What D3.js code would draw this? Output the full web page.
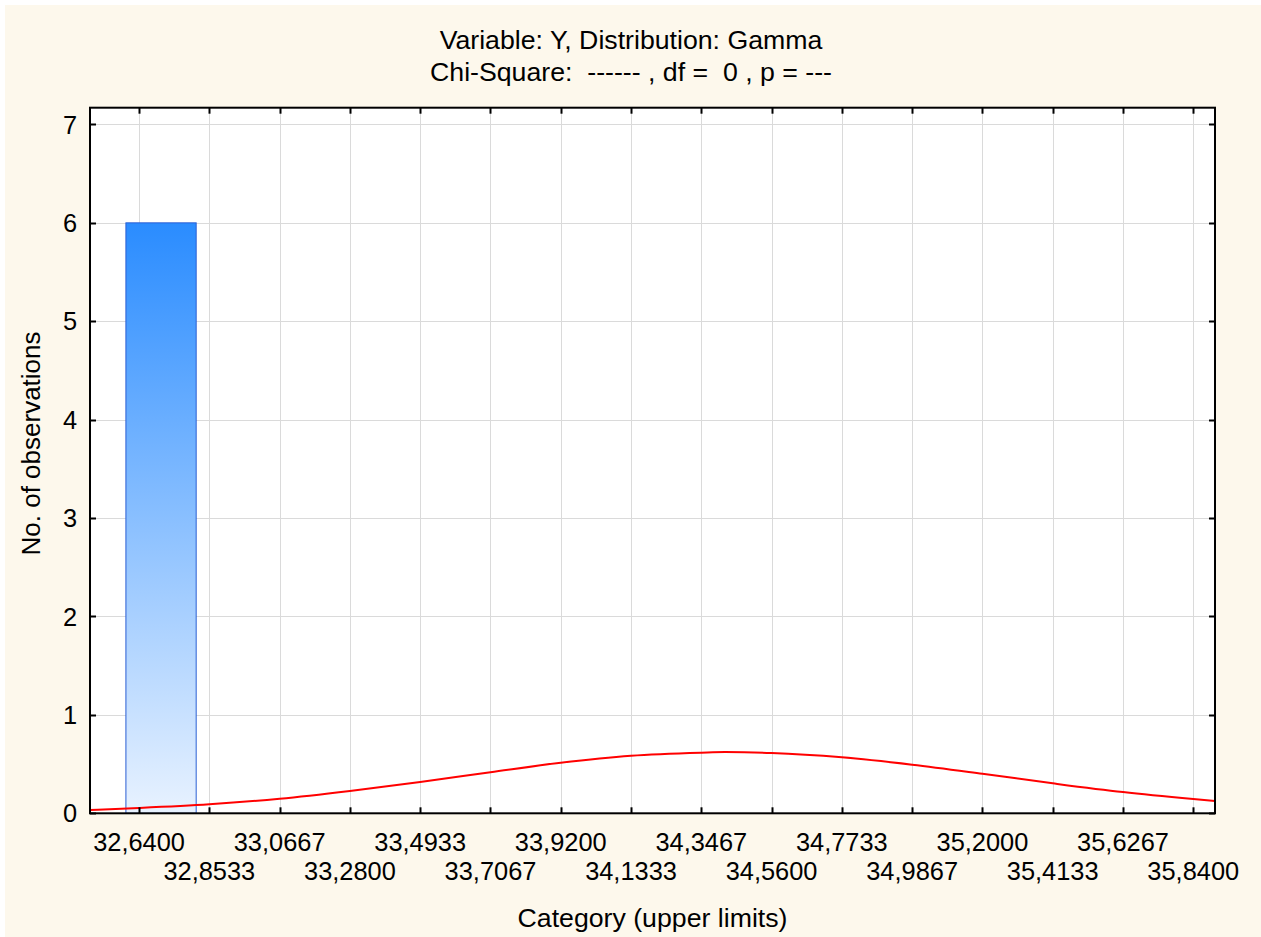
<!DOCTYPE html>
<html>
<head>
<meta charset="utf-8">
<script src="https://cdn.jsdelivr.net/npm/d3@7"></script>
<style>
  html, body { margin: 0; padding: 0; background: #ffffff; }
  svg { display: block; }
  text { font-family: "Liberation Sans", Arial, sans-serif; fill: #000; white-space: pre; }
</style>
</head>
<body>
<svg id="chart" width="1261" height="937"></svg>
<script>
// Histogram of Y with fitted Gamma density
const titleLines = ["Variable: Y, Distribution: Gamma", "Chi-Square:  ------ , df =  0 , p = ---"];
const xTitle = "Category (upper limits)";
const yTitle = "No. of observations";

const xTickLabels = ["32,6400", "32,8533", "33,0667", "33,2800", "33,4933", "33,7067", "33,9200", "34,1333",
                     "34,3467", "34,5600", "34,7733", "34,9867", "35,2000", "35,4133", "35,6267", "35,8400"];
const yTicks = [0, 1, 2, 3, 4, 5, 6, 7];

// histogram bins: lower edge, upper edge, count
const binLower = [32.6];
const binUpper = [32.8133];
const binCount = [6];

// fitted density (expected counts) along the x range
const curveX = [32.491, 32.64, 32.8533, 33.0667, 33.28, 33.4933, 33.7067, 33.92, 34.1333,
                34.3467, 34.419, 34.56, 34.7733, 34.9867, 35.2, 35.4133, 35.6267, 35.84, 35.906];
const curveY = [0.034, 0.054, 0.091, 0.148, 0.227, 0.318, 0.417, 0.514, 0.585,
                0.616, 0.622, 0.613, 0.569, 0.494, 0.402, 0.305, 0.216, 0.145, 0.125];

const xDomain = [32.491, 35.906];
const yDomain = [0, 7.17];

const svg = d3.select("#chart");
const W = 1261, H = 937;
const plot = { left: 90, right: 1215, top: 107.7, bottom: 813.3 };

// page background
svg.append("rect").attr("x", 0).attr("y", 0).attr("width", W).attr("height", H).attr("fill", "#ffffff");
svg.append("rect").attr("x", 5).attr("y", 5).attr("width", W - 5).attr("height", H - 5).attr("fill", "#fdf8ec");

const x = d3.scaleLinear().domain(xDomain).range([plot.left, plot.right]);
const y = d3.scaleLinear().domain(yDomain).range([plot.bottom, plot.top]);

const xTickValues = xTickLabels.map(s => +s.replace(",", "."));

// plot area
svg.append("rect")
  .attr("x", plot.left).attr("y", plot.top)
  .attr("width", plot.right - plot.left).attr("height", plot.bottom - plot.top)
  .attr("fill", "#ffffff");

// grid
const grid = svg.append("g").attr("stroke", "#dadada").attr("stroke-width", 1);
grid.selectAll("line.v").data(xTickValues).enter().append("line")
  .attr("x1", d => Math.round(x(d)) + 0.5).attr("x2", d => Math.round(x(d)) + 0.5)
  .attr("y1", plot.top).attr("y2", plot.bottom);
grid.selectAll("line.h").data(yTicks).enter().append("line")
  .attr("x1", plot.left).attr("x2", plot.right)
  .attr("y1", d => Math.round(y(d)) + 0.5).attr("y2", d => Math.round(y(d)) + 0.5);

// gradient for bars
const defs = svg.append("defs");
const grad = defs.append("linearGradient").attr("id", "barGrad")
  .attr("x1", 0).attr("y1", 0).attr("x2", 0).attr("y2", 1);
grad.append("stop").attr("offset", "0%").attr("stop-color", "#2a8cff");
grad.append("stop").attr("offset", "100%").attr("stop-color", "#e8f2ff");

// bars
const bins = binCount.map((c, i) => ({ lo: binLower[i], hi: binUpper[i], n: c }));
svg.append("g").selectAll("rect").data(bins).enter().append("rect")
  .attr("x", d => x(d.lo)).attr("y", d => y(d.n))
  .attr("width", d => x(d.hi) - x(d.lo)).attr("height", d => y(0) - y(d.n))
  .attr("fill", "url(#barGrad)")
  .attr("stroke", "#2a5fd4").attr("stroke-width", 1);

// fitted curve
const pts = curveX.map((v, i) => [v, curveY[i]]);
svg.append("path")
  .attr("d", d3.line().x(d => x(d[0])).y(d => y(d[1])).curve(d3.curveMonotoneX)(pts))
  .attr("fill", "none").attr("stroke", "#ff0000").attr("stroke-width", 2);

// frame
svg.append("rect")
  .attr("x", plot.left).attr("y", plot.top)
  .attr("width", plot.right - plot.left).attr("height", plot.bottom - plot.top)
  .attr("fill", "none").attr("stroke", "#000").attr("stroke-width", 2);

// inward ticks
const ticks = svg.append("g").attr("stroke", "#000").attr("stroke-width", 2);
const tl = 6;
xTickValues.forEach(v => {
  const px = Math.round(x(v)) + 0.5;
  ticks.append("line").attr("x1", px).attr("x2", px).attr("y1", plot.bottom).attr("y2", plot.bottom - tl);
  ticks.append("line").attr("x1", px).attr("x2", px).attr("y1", plot.top).attr("y2", plot.top + tl);
});
yTicks.forEach(v => {
  const py = Math.round(y(v)) + 0.5;
  ticks.append("line").attr("x1", plot.left).attr("x2", plot.left + tl).attr("y1", py).attr("y2", py);
  ticks.append("line").attr("x1", plot.right).attr("x2", plot.right - tl).attr("y1", py).attr("y2", py);
});

const tickFs = 25.4;

// x tick labels, staggered over two rows
svg.append("g").selectAll("text").data(xTickLabels).enter().append("text")
  .attr("x", (d, i) => x(xTickValues[i]))
  .attr("y", (d, i) => i % 2 === 0 ? 851 : 880)
  .attr("text-anchor", "middle")
  .attr("font-size", tickFs)
  .text(d => d);

// y tick labels
svg.append("g").selectAll("text").data(yTicks).enter().append("text")
  .attr("x", 77).attr("y", d => y(d))
  .attr("dy", "0.36em")
  .attr("text-anchor", "end")
  .attr("font-size", tickFs)
  .text(d => d);

// titles
titleLines.forEach((t, i) => {
  svg.append("text").attr("x", 631).attr("y", 48.5 + i * 32)
    .attr("text-anchor", "middle").attr("font-size", 26.7).text(t);
});

svg.append("text").attr("x", (plot.left + plot.right) / 2).attr("y", 927)
  .attr("text-anchor", "middle").attr("font-size", 26.7).text(xTitle);

svg.append("text")
  .attr("transform", `translate(39.5,443.5) rotate(-90)`)
  .attr("text-anchor", "middle").attr("font-size", 26).text(yTitle);
</script>
</body>
</html>
